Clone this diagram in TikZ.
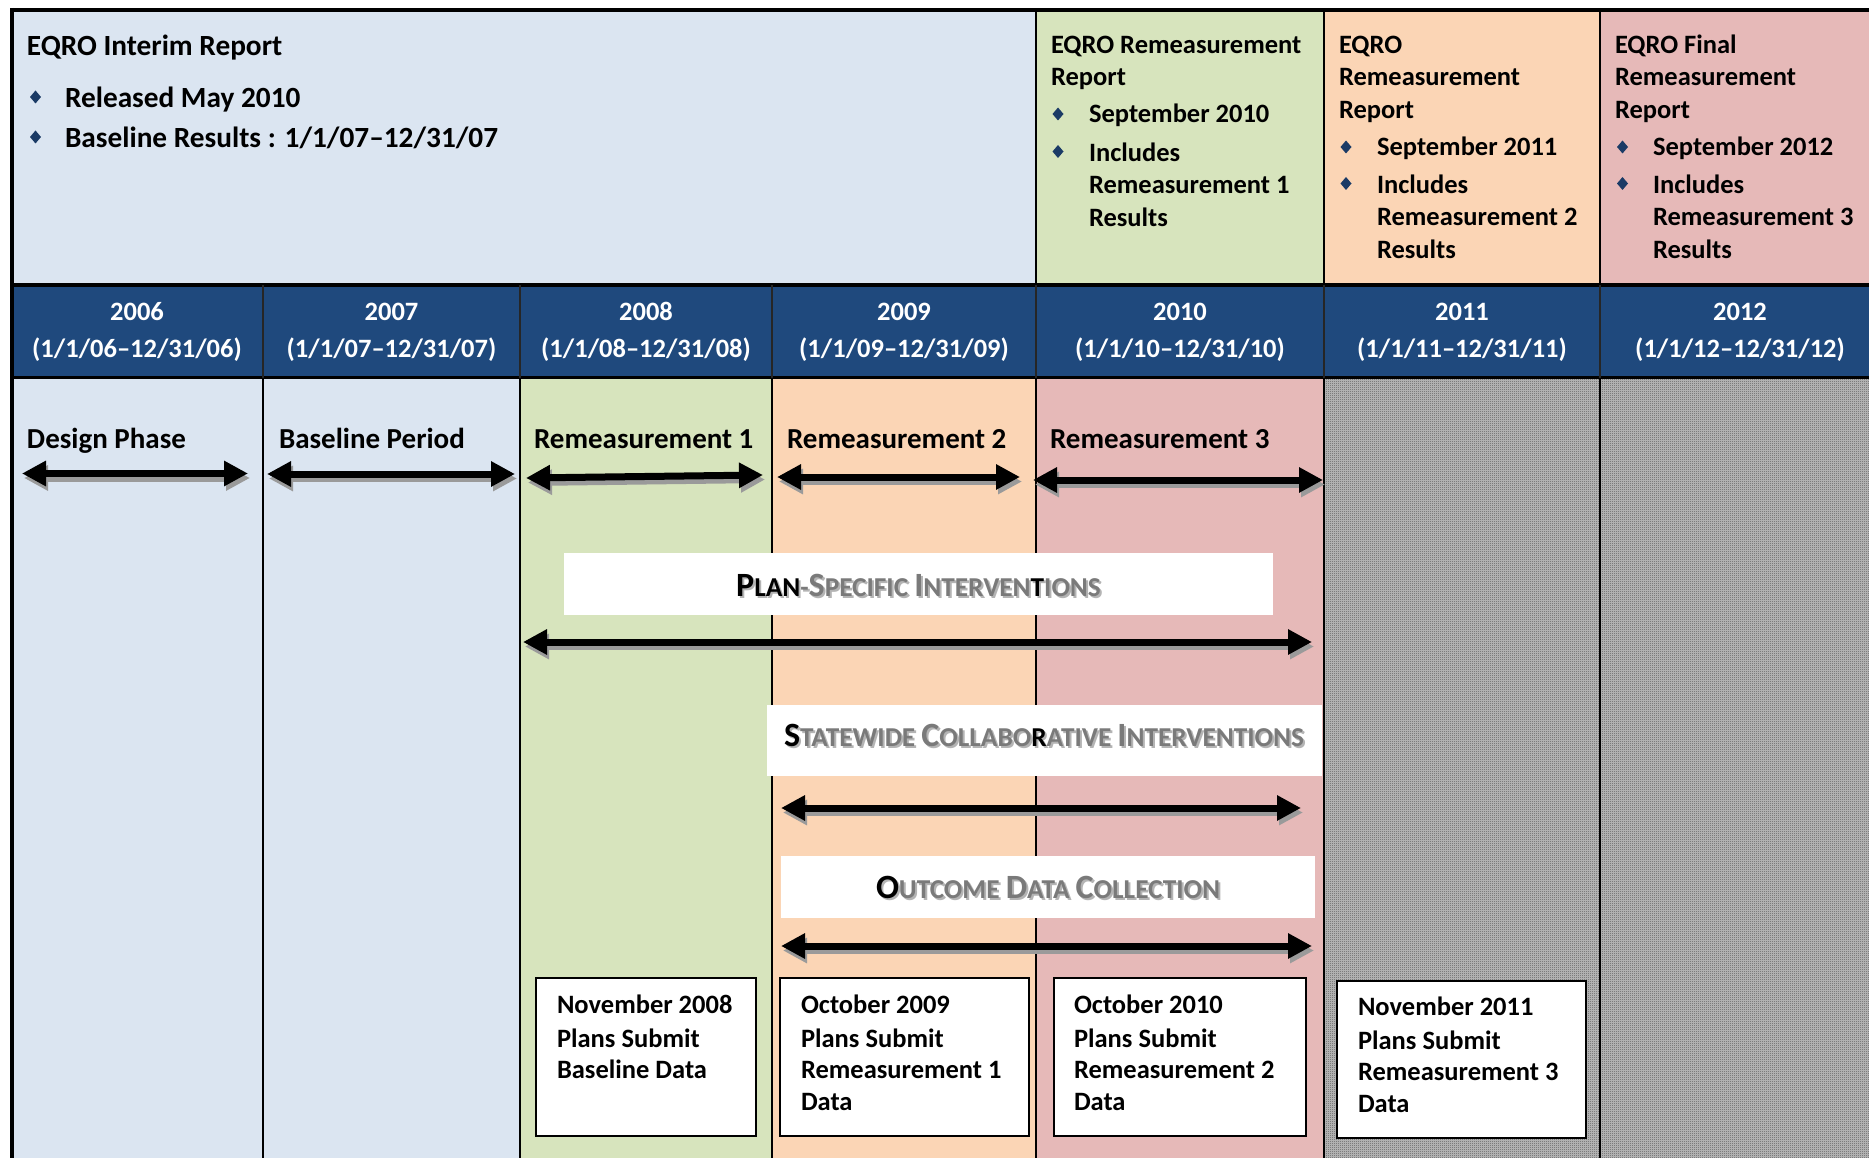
\documentclass[tikz,border=0pt]{standalone}
\usepackage{fontspec}
\setmainfont{Carlito}
\usetikzlibrary{arrows.meta,patterns}

\definecolor{paleblue}{HTML}{DBE5F1}
\definecolor{palegreen}{HTML}{D7E4BD}
\definecolor{paleorange}{HTML}{FBD5B5}
\definecolor{palepink}{HTML}{E6B9B8}
\definecolor{bandblue}{HTML}{1F497D}
\definecolor{bulletblue}{HTML}{1B3B66}
\definecolor{checklight}{HTML}{BEBEBE}
\definecolor{checkdark}{HTML}{5A5A5A}
\definecolor{shadowgray}{HTML}{9A9A9A}
\definecolor{capgray}{HTML}{7A7A7A}
\definecolor{capshadow}{HTML}{B4B4B4}

% one-pixel checkerboard for the years not yet reached
\pgfdeclarepatternformonly{finechecker}{\pgfpointorigin}{\pgfqpoint{2pt}{2pt}}{\pgfqpoint{2pt}{2pt}}{%
  \pgfpathrectangle{\pgfpointorigin}{\pgfqpoint{1pt}{1pt}}%
  \pgfpathrectangle{\pgfqpoint{1pt}{1pt}}{\pgfqpoint{1pt}{1pt}}%
  \pgfusepath{fill}}

% font sizes (1pt = one unit of the grid)
\newcommand\titlefont{\fontsize{29.3}{35}\selectfont\bfseries}
\newcommand\repfont{\fontsize{26.5}{32}\selectfont\bfseries}
\newcommand\yearfont{\fontsize{26.5}{32}\selectfont\bfseries}
\newcommand\phasefont{\fontsize{29}{35}\selectfont\bfseries}
\newcommand\datafont{\fontsize{26.5}{32}\selectfont\bfseries}
\newcommand\capfont{\fontsize{27.3}{32}\selectfont\bfseries}
% hand-made small capitals
\newcommand\capfull[1]{{\fontsize{34}{38}\selectfont #1}}
\newcommand\capsmall[1]{{\fontsize{27.3}{32}\selectfont #1}}

\tikzset{
  txt/.style={anchor=base west, inner sep=0pt, outer sep=0pt},
  ctxt/.style={anchor=base, inner sep=0pt, outer sep=0pt},
  abody/.style={draw=black, line width=7pt,
    {Triangle[length=24pt,width=24pt]}-{Triangle[length=24pt,width=24pt]}},
  ashadow/.style={draw=shadowgray, line width=7pt,
    {Triangle[length=24pt,width=24pt]}-{Triangle[length=24pt,width=24pt]}},
  whitebox/.style={fill=white, draw=none, anchor=north west, inner sep=0pt},
  databox/.style={fill=white, draw=black, line width=2pt, anchor=north west, inner sep=0pt},
  sep/.style={draw=black, line width=2.5pt},
}

% double-headed timeline arrow with its drop shadow
\newcommand\spanarrow[2]{%
  \draw[ashadow] ([shift={(2,4.5)}]#1) -- ([shift={(2,4.5)}]#2);
  \draw[abody] (#1) -- (#2);}
% diamond bullet
\newcommand\dbullet[2]{%
  \fill[bulletblue, shift={(#1,#2)}] (-5.5,0) -- (0,-6.5) -- (5.5,0) -- (0,6.5) -- cycle;}
% shadowed small-caps caption: name, anchor coordinate name, text
\newcommand\dk[1]{\textcolor{black}{#1}}
\newcommand\captionsc[3]{%
  {\renewcommand\dk[1]{##1}%
   \node[ctxt, font=\capfont, text=capshadow] at ([shift={(2,2)}]#2) {#3};}
  \node[ctxt, font=\capfont, text=capgray] (#1) at (#2) {#3};}

\begin{document}
\begin{tikzpicture}[x=1pt, y=-1pt]
\useasboundingbox (0,0) rectangle (1869,1158);
\fill[white] (0,0) rectangle (1869,1158);

% ---------- report row ----------
\fill[paleblue]   (12,10) rectangle (1036,285);
\fill[palegreen]  (1036,10) rectangle (1324,285);
\fill[paleorange] (1324,10) rectangle (1600,285);
\fill[palepink]   (1600,10) rectangle (1869,285);

% ---------- year band ----------
\fill[bandblue] (12,285) rectangle (1869,377.7);

% ---------- phase columns ----------
\fill[paleblue]   (12,377.7) rectangle (520,1158);
\fill[palegreen]  (520,377.7) rectangle (772,1158);
\fill[paleorange] (772,377.7) rectangle (1036,1158);
\fill[palepink]   (1036,377.7) rectangle (1324,1158);
\fill[checklight] (1324,377.7) rectangle (1869,1158);
\fill[pattern=finechecker, pattern color=checkdark] (1324,377.7) rectangle (1869,1158);

% ---------- rules ----------
\draw[line width=4pt] (10,10) -- (1869,10);
\draw[line width=4pt] (12,8) -- (12,1158);
\draw[line width=3.5pt] (12,285) -- (1869,285);
\draw[line width=3.5pt] (12,377.7) -- (1869,377.7);
\foreach \x in {1036,1324,1600} \draw[sep] (\x,10) -- (\x,285);
\foreach \x in {263,520,772,1036,1324,1600} {
  \draw[draw=black!85, line width=1.5pt] (\x,285) -- (\x,377.7);
  \draw[sep] (\x,377.7) -- (\x,1158);
}

% ---------- report texts ----------
\node[txt, font=\titlefont] (ir0) at (27,56) {EQRO Interim Report};
\dbullet{35.5}{97}
\node[txt, font=\titlefont] (ir1) at (65,108) {Released May 2010};
\dbullet{35.5}{137}
\node[txt, font=\titlefont] (ir2) at (65,148) {Baseline Results : 1/1/07–12/31/07};

\node[txt, font=\repfont] (ra0) at (1051,53.3) {EQRO Remeasurement};
\node[txt, font=\repfont] (ra1) at (1051,86) {Report};
\dbullet{1058}{114}
\node[txt, font=\repfont] (ra2) at (1089,123) {September 2010};
\dbullet{1058}{151.5}
\node[txt, font=\repfont] (ra3) at (1089,161.7) {Includes};
\node[txt, font=\repfont] (ra4) at (1089,194) {Remeasurement 1};
\node[txt, font=\repfont] (ra5) at (1089,226.7) {Results};

\node[txt, font=\repfont] (rb0) at (1339,53.3) {EQRO};
\node[txt, font=\repfont] (rb1) at (1339,86) {Remeasurement};
\node[txt, font=\repfont] (rb2) at (1339,118.3) {Report};
\dbullet{1346}{147}
\node[txt, font=\repfont] (rb3) at (1377,156) {September 2011};
\dbullet{1346}{183.5}
\node[txt, font=\repfont] (rb4) at (1377,193.3) {Includes};
\node[txt, font=\repfont] (rb5) at (1377,226) {Remeasurement 2};
\node[txt, font=\repfont] (rb6) at (1377,258.3) {Results};

\node[txt, font=\repfont] (rc0) at (1615,53.3) {EQRO Final};
\node[txt, font=\repfont] (rc1) at (1615,86) {Remeasurement};
\node[txt, font=\repfont] (rc2) at (1615,118.3) {Report};
\dbullet{1622.5}{147}
\node[txt, font=\repfont] (rc3) at (1653,156) {September 2012};
\dbullet{1622.5}{183.5}
\node[txt, font=\repfont] (rc4) at (1653,193.3) {Includes};
\node[txt, font=\repfont] (rc5) at (1653,226) {Remeasurement 3};
\node[txt, font=\repfont] (rc6) at (1653,258.3) {Results};

% ---------- year labels ----------
\foreach \cx/\yr/\a in {137/2006/06, 391.5/2007/07, 646/2008/08, 904/2009/09,
                        1180/2010/10, 1462/2011/11, 1740/2012/12} {
  \node[ctxt, font=\yearfont, text=white] (yr\a) at (\cx,320) {\yr};
  \node[ctxt, font=\yearfont, text=white] (rg\a) at (\cx,358) {(1/1/\a–12/31/\a)};
}

% ---------- phases ----------
\node[txt, font=\phasefont] (ph1) at (27,448) {Design Phase};
\node[txt, font=\phasefont] (ph2) at (279,448) {Baseline Period};
\node[txt, font=\phasefont] (ph3) at (534,448) {Remeasurement 1};
\node[txt, font=\phasefont] (ph4) at (787,448) {Remeasurement 2};
\node[txt, font=\phasefont] (ph5) at (1050,448) {Remeasurement 3};

\coordinate (dpL) at (22,473.5);   \coordinate (dpR) at (248,473.5);
\coordinate (bpL) at (267,474);    \coordinate (bpR) at (515,474);
\coordinate (r1L) at (526,478);    \coordinate (r1R) at (763,475);
\coordinate (r2L) at (777,477);    \coordinate (r2R) at (1020,477);
\coordinate (r3L) at (1033,480);   \coordinate (r3R) at (1323,480);
\spanarrow{dpL}{dpR}
\spanarrow{bpL}{bpR}
\spanarrow{r1L}{r1R}
\spanarrow{r2L}{r2R}
\spanarrow{r3L}{r3R}

% ---------- interventions ----------
\node[whitebox, minimum width=709, minimum height=62] (psbox) at (564,553) {};
\coordinate (psC) at (918.5,596);
\captionsc{pstext}{psC}{\dk{\capfull{P}\capsmall{LAN}}\capsmall{-}\capfull{S}\capsmall{PECIFIC} \capfull{I}\capsmall{NTERVEN\dk{T}IONS}}
\coordinate (psL) at (523,642);  \coordinate (psR) at (1312,642);
\spanarrow{psL}{psR}

\node[whitebox, minimum width=555, minimum height=71] (swbox) at (767,705) {};
\coordinate (swC) at (1044,746.7);
\captionsc{swtext}{swC}{\dk{\capfull{S}}\capsmall{TATEWIDE} \capfull{C}\capsmall{OLLABO\dk{R}ATIVE} \capfull{I}\capsmall{NTERVENTIONS}}
\coordinate (swL) at (781,808);  \coordinate (swR) at (1301,808);
\spanarrow{swL}{swR}

\node[whitebox, minimum width=534, minimum height=62] (odbox) at (781,856) {};
\coordinate (odC) at (1048,898);
\captionsc{odtext}{odC}{\dk{\capfull{O}}\capsmall{UTCOME} \capfull{D}\capsmall{ATA} \capfull{C}\capsmall{OLLECTION}}
\coordinate (odL) at (781,946);  \coordinate (odR) at (1312,946);
\spanarrow{odL}{odR}

% ---------- data submissions ----------
\node[databox, minimum width=220, minimum height=158] (db1) at (535,977) {};
\node[txt, font=\datafont] (db1a) at (557,1013) {November 2008};
\node[txt, font=\datafont] (db1b) at (557,1047) {Plans Submit};
\node[txt, font=\datafont] (db1c) at (557,1078) {Baseline Data};

\node[databox, minimum width=249, minimum height=158] (db2) at (779,977) {};
\node[txt, font=\datafont] (db2a) at (801,1013) {October 2009};
\node[txt, font=\datafont] (db2b) at (801,1047) {Plans Submit};
\node[txt, font=\datafont] (db2c) at (801,1078) {Remeasurement 1};
\node[txt, font=\datafont] (db2d) at (801,1110) {Data};

\node[databox, minimum width=252, minimum height=158] (db3) at (1053,977) {};
\node[txt, font=\datafont] (db3a) at (1074,1013) {October 2010};
\node[txt, font=\datafont] (db3b) at (1074,1047) {Plans Submit};
\node[txt, font=\datafont] (db3c) at (1074,1078) {Remeasurement 2};
\node[txt, font=\datafont] (db3d) at (1074,1110) {Data};

\node[databox, minimum width=249, minimum height=157] (db4) at (1336,980) {};
\node[txt, font=\datafont] (db4a) at (1358,1015) {November 2011};
\node[txt, font=\datafont] (db4b) at (1358,1049) {Plans Submit};
\node[txt, font=\datafont] (db4c) at (1358,1080) {Remeasurement 3};
\node[txt, font=\datafont] (db4d) at (1358,1112) {Data};
\end{tikzpicture}
\end{document}
